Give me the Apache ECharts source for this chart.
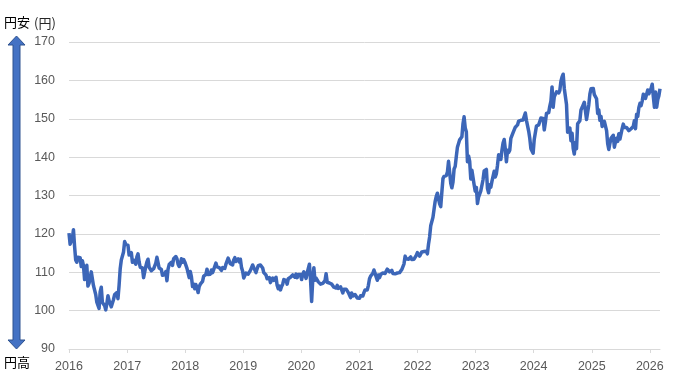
<!DOCTYPE html>
<html>
<head>
<meta charset="utf-8">
<script src="https://cdn.jsdelivr.net/npm/echarts@6/dist/echarts.min.js"></script>
<style>
html,body{margin:0;padding:0;background:#fff;}
#chart{width:674px;height:382px;}
</style>
</head>
<body>
<div id="chart"></div>
<script>
// Weekly USD/JPY values (Fridays), starting 2016-01-01
const startDate = '2016-01-01';
const usdjpy2016 = [120.2,117.3,117.0,118.8,121.1, 116.8,113.2,112.6,113.9, 113.8,113.8,111.5,113.0,
  111.7,108.1,108.8,111.8,106.4, 107.1,108.6,110.1,110.2, 106.5,107.0,104.2,102.2,
  102.5,100.6,104.9,106.1,102.1, 101.8,101.3,100.2,101.8, 103.9,102.6,102.3,101.0,101.3,
  102.9,104.2,103.8,104.7, 103.1,106.6,110.9,113.2, 113.5,115.3,118.0,117.3,117.0];
const usdjpy2017 = [117.0,114.5,114.6,115.1, 112.6,113.2,112.9,112.1, 114.0,114.8,112.7,111.3,111.4,
  111.1,108.6,109.1,111.5, 112.7,113.4,111.3,111.3, 110.4,110.3,110.9,111.3,112.4,
  113.9,112.5,111.1,110.7, 110.7,109.2,109.2,109.4, 110.2,107.8,110.8,112.0,112.5,
  112.6,111.8,113.5,113.7, 114.1,113.5,112.1,111.5, 112.2,113.5,112.6,113.3,112.7];
const usdjpy2018 = [113.0,111.0,110.8,108.6, 110.2,108.8,106.3,106.9, 105.7,106.8,106.0,104.7,106.3,
  106.9,107.4,107.6,109.0, 109.1,109.4,110.8,109.4, 109.5,109.5,110.6,109.9,110.7,
  110.5,112.4,111.4,111.0, 111.2,110.9,110.5,111.2,111.0, 111.0,112.1,112.6,113.7,
  113.9,112.2,112.5,111.9, 113.2,113.8,112.8,112.9,113.5, 112.7,113.4,111.2,110.3];
const usdjpy2019 = [108.5,108.5,109.8,109.5, 109.5,109.7,110.5,110.7, 111.9,111.2,111.5,109.9,110.9,
  111.7,112.0,111.9,111.6, 111.1,109.9,110.1,109.3,108.3, 108.2,108.6,107.3,107.9,
  108.5,107.9,107.7,108.7, 106.6,105.7,106.4,105.4,106.3, 106.9,108.1,107.6,107.9,
  106.9,108.3,108.4,108.7, 108.2,109.3,108.8,108.7,109.5, 108.6,109.4,109.4,109.4];
const usdjpy2020 = [108.1,109.5,110.1,109.3,108.4, 109.8,109.8,112.1,108.1, 102.4,108.0,111.2,107.9,
  108.5,108.5,107.5,107.5, 106.9,106.6,107.1,107.6,107.8, 109.6,107.4,106.9,107.2,
  107.5,106.9,107.0,106.1,105.8, 105.9,106.6,105.8,105.4, 106.2,106.1,104.6,105.6,
  105.3,105.6,105.4,104.7,104.6, 103.4,104.6,103.8,104.1, 104.2,104.0,103.3,103.6];
const usdjpy2021 = [103.2,103.9,103.8,103.8,104.7, 105.4,104.9,105.4,106.6, 108.3,109.0,108.9,109.7,
  110.6,109.7,108.8,107.9,109.3, 108.6,109.4,108.9,109.8, 109.5,109.7,110.2,110.8,
  111.0,110.1,110.1,110.5,109.7, 110.2,109.6,109.8,109.8, 109.7,109.9,110.0,110.7,
  111.1,112.2,114.2,113.5,114.0, 113.4,113.9,114.0,113.3, 112.8,113.4,113.7,114.4,115.1];
const usdjpy2022 = [115.6,114.2,113.7,115.3, 115.2,115.4,115.0,115.5, 114.8,117.3,119.2,122.1,
  122.5,124.3,126.4,128.5,129.8, 130.6,129.2,127.8,127.1, 130.9,134.4,135.0,135.2,
  135.2,136.1,138.9,136.1,133.2, 132.0,133.5,136.9,137.6, 140.2,142.6,142.9,144.5,144.7,
  145.3,148.7,150.5,147.6, 146.6,138.8,140.3,138.9, 134.3,136.6,136.6,132.8,131.1];
const usdjpy2023 = [132.1,127.9,129.6,129.9, 131.2,131.4,134.1,136.4, 135.9,136.8,131.8,130.7,132.8,
  132.2,133.7,134.1,136.3, 134.8,135.7,137.9,140.6, 140.0,139.4,141.8,143.7,144.6,
  142.1,138.8,141.8,141.2, 141.8,144.9,145.4,146.4, 146.2,147.8,147.8,148.4,149.4,
  149.3,149.6,149.9,149.7, 149.4,151.5,149.6,149.4, 146.8,144.9,142.2,142.4,141.0];
const usdjpy2024 = [144.6,144.9,148.1,148.1, 148.4,149.3,150.2,150.5, 150.1,147.1,149.0,151.4,151.3,
  151.6,153.3,154.6,158.3, 153.0,155.7,155.6,157.0,157.2, 156.7,157.4,159.8,160.9,
  161.6,157.9,157.4,153.7, 146.5,146.6,147.6,144.3,146.2, 142.3,140.8,143.8,142.2,
  148.7,149.1,149.5,152.3, 152.9,152.6,154.3,154.7,149.8, 150.0,153.6,156.4,157.8];
const usdjpy2025 = [157.3,157.9,156.3,156.0,155.2, 151.4,152.3,149.6,150.6, 148.0,148.6,149.3,149.8,
  146.9,143.5,142.0,143.6, 144.9,145.4,145.7,142.6,144.0, 144.9,144.1,146.1,144.7,
  144.5,147.4,148.6,147.7, 147.4,147.7,147.2,146.9,147.0, 147.4,147.7,148.0,149.5,
  147.4,151.2,150.6,152.9,154.0, 153.4,154.6,156.4,156.2, 155.3,155.8,157.5,156.5];
const usdjpy2026 = [157.0,157.9,159.0,155.8,153.0, 157.0,153.0,155.0,156.0,157.8];

const yTicks = {min: 90, max: 170, interval: 10};

const values = [].concat(usdjpy2016, usdjpy2017, usdjpy2018, usdjpy2019, usdjpy2020,
  usdjpy2021, usdjpy2022, usdjpy2023, usdjpy2024, usdjpy2025, usdjpy2026);
const t0 = Date.UTC(2016, 0, 1);
const week = 7 * 86400000;
const seriesData = values.map((v, i) => [t0 + i * week, v]);
const lastTime = t0 + (values.length - 1) * week;

const chart = echarts.init(document.getElementById('chart'), null, {renderer: 'canvas'});
const YEAR = 365 * 86400000;
chart.setOption({
  animation: false,
  backgroundColor: '#ffffff',
  grid: {left: 69, right: 14, top: 42, bottom: 33, containLabel: false},
  xAxis: {
    type: 'time',
    min: t0,
    max: lastTime,
    minInterval: YEAR,
    maxInterval: YEAR + 2 * 86400000,
    axisLine: {show: true, lineStyle: {color: '#d9d9d9', width: 1}},
    axisTick: {show: true, length: 4, lineStyle: {color: '#d9d9d9'}},
    splitLine: {show: false},
    axisLabel: {
      formatter: '{yyyy}', color: '#595959', fontSize: 12.5,
      fontFamily: '"Liberation Sans", Arial, sans-serif', margin: 11,
      showMaxLabel: false
    }
  },
  yAxis: {
    type: 'value',
    min: yTicks.min, max: yTicks.max, interval: yTicks.interval,
    axisLine: {show: false},
    axisTick: {show: false},
    splitLine: {lineStyle: {color: '#d9d9d9', width: 1}},
    axisLabel: {color: '#595959', fontSize: 12.5, fontFamily: '"Liberation Sans", Arial, sans-serif', margin: 14}
  },
  series: [{
    type: 'line',
    data: seriesData,
    showSymbol: false,
    symbol: 'none',
    lineStyle: {color: '#3c66b8', width: 3.5, join: 'round'},
    z: 3
  }],
  graphic: [
    {
      type: 'polygon',
      shape: {points: [[16.5,36],[25,45],[20,45],[20,340],[25,340],[16.5,349],[8,340],[13,340],[13,45],[8,45]]},
      style: {fill: '#4472c4', stroke: '#2f528f', lineWidth: 1}
    },
    {type: 'text', left: 4, top: 16, style: {text: '円安', fill: '#000000', font: '13px "Noto Sans CJK JP", sans-serif'}},
    {type: 'text', left: 34, top: 17, style: {text: '(円)', fill: '#262626', font: '13px "Noto Sans CJK JP", sans-serif'}},
    {type: 'text', left: 4, top: 356, style: {text: '円高', fill: '#000000', font: '13px "Noto Sans CJK JP", sans-serif'}}
  ]
});
</script>
</body>
</html>
